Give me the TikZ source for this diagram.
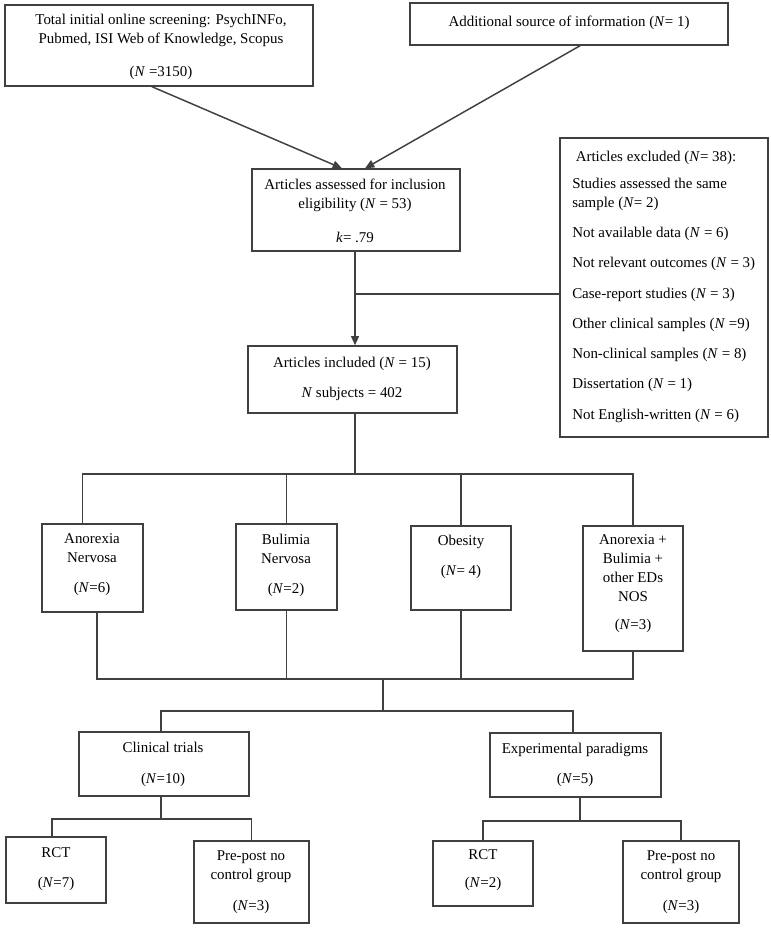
\documentclass[tikz,border=0pt]{standalone}
\usepackage{fontspec}
\setmainfont{Liberation Serif}
\usetikzlibrary{fit,calc,arrows.meta}
\newcommand\myfont{\fontsize{11.2pt}{14.25pt}\selectfont}
\tikzset{
  box/.style={draw=black!75, line width=1pt, inner sep=0pt, rectangle},
  txt/.style={anchor=north, inner sep=0pt, align=center, font=\myfont, execute at begin node=\strut},
  txtl/.style={anchor=north west, inner sep=0pt, align=left, font=\myfont, execute at begin node=\strut},
  conn/.style={draw=black!75, line width=1.1pt},
  arr/.style={conn, -{Triangle[length=7pt,width=6pt]}}
}
\begin{document}
\begin{tikzpicture}[x=0.75pt,y=-0.75pt]
\useasboundingbox (0,0) rectangle (770,930);
% boxes
\node[box, fit={(5,5) (313,86)}] (b1) {};
\node[box, fit={(410,3) (728,45)}] (b2) {};
\node[box, fit={(252,169) (460,251)}] (ass) {};
\node[box, fit={(248,346) (457,413)}] (inc) {};
\node[box, fit={(560,138) (768,437)}] (exc) {};
\node[box, fit={(42,524) (143,612)}] (an) {};
\node[box, fit={(236,524) (337,610)}] (bu) {};
\node[box, fit={(411,526) (511,610)}] (ob) {};
\node[box, fit={(583,526) (683,651)}] (ab) {};
\node[box, fit={(79,732) (249,796)}] (ct) {};
\node[box, fit={(490,733) (661,797)}] (ep) {};
\node[box, fit={(6,837) (106,903)}] (rcta) {};
\node[box, fit={(194,841) (309,923)}] (ppa) {};
\node[box, fit={(433,841) (533,906)}] (rctb) {};
\node[box, fit={(623,841) (739,923)}] (ppb) {};
% texts
\node[txt] (t1) at (161,13.7) {Total initial online screening: PsychINFo,\\Pubmed, ISI Web of Knowledge, Scopus\\[10.5pt](\textit{N} =3150)};
\node[txt] (t2) at (569,12.7) {Additional source of information (\textit{N}= 1)};
\node[txt] (t3) at (355,178.7) {Articles assessed for inclusion\\eligibility (\textit{N} = 53)\\[11.25pt]\textit{k}= .79};
\node[txt] (t4) at (352,356.7) {Articles included (\textit{N} = 15)\\[8.25pt]\textit{N} subjects = 402};
\node[txt] (t5) at (656,147.7) {Articles excluded (\textit{N}= 38):};
\node[txtl] (t6) at (572,177.7) {Studies assessed the same\\sample (\textit{N}= 2)\\[8.45pt]Not available data (\textit{N} = 6)\\[8.45pt]Not relevant outcomes (\textit{N} = 3)\\[8.45pt]Case-report studies (\textit{N} = 3)\\[8.45pt]Other clinical samples (\textit{N} =9)\\[8.45pt]Non-clinical samples (\textit{N} = 8)\\[8.45pt]Dissertation (\textit{N} = 1)\\[8.45pt]Not English-written (\textit{N} = 6)};
\node[txt] (t7) at (92,533.7) {Anorexia\\Nervosa\\[8.25pt](\textit{N}=6)};
\node[txt] (t8) at (286,533.7) {Bulimia\\Nervosa\\[8.25pt](\textit{N}=2)};
\node[txt] (t9) at (461,534.7) {Obesity\\[8.25pt](\textit{N}= 4)};
\node[txt] (t10) at (633,534.7) {Anorexia +\\Bulimia +\\other EDs\\NOS\\[6.75pt](\textit{N}=3)};
\node[txt] (t11) at (163,741.7) {Clinical trials\\[9pt](\textit{N}=10)};
\node[txt] (t12) at (575,742.7) {Experimental paradigms\\[8.25pt](\textit{N}=5)};
\node[txt] (t13) at (56,847) {RCT\\[8.25pt](\textit{N}=7)};
\node[txt] (t14) at (251,850.7) {Pre-post no\\control group\\[9pt](\textit{N}=3)};
\node[txt] (t15) at (483,849.7) {RCT\\[6.75pt](\textit{N}=2)};
\node[txt] (t16) at (681,850.7) {Pre-post no\\control group\\[9pt](\textit{N}=3)};
% junctions
\coordinate (j1) at (355,294);
\coordinate (j2) at (355,474);
\coordinate (j3) at (383,679);
\coordinate (j4) at (383,711);
\coordinate (j5) at (161,819);
\coordinate (j6) at (580,821);
% connectors
\draw[arr] ($(b1.south west)!0.477!(b1.south east)$) -- ($(ass.north west)!0.433!(ass.north east)$);
\draw[arr] ($(b2.south west)!0.535!(b2.south east)$) -- ($(ass.north west)!0.543!(ass.north east)$);
\draw[arr] (ass.south -| j1) -- (inc.north -| j1);
\draw[conn] (j1) -- (j1 -| exc.west);
\draw[conn] (inc.south -| j2) -- (j2);
\draw[conn] ($(an.north west)!0.4!(an.north east)$) |- (ab.north |- j2) -- (ab.north);
\draw[conn] (bu.north) -- (bu.north |- j2);
\draw[conn] (ob.north) -- (ob.north |- j2);
\draw[conn] ($(an.south west)!0.545!(an.south east)$) |- (ab.south |- j3) -- (ab.south);
\draw[conn] (bu.south) -- (bu.south |- j3);
\draw[conn] (ob.south) -- (ob.south |- j3);
\draw[conn] (j3) -- (j4);
\draw[conn] ($(ct.north west)!0.482!(ct.north east)$) |- (j4) -| ($(ep.north west)!0.485!(ep.north east)$);
\draw[conn] (ct.south -| j5) -- (j5);
\draw[conn] ($(rcta.north west)!0.46!(rcta.north east)$) |- (j5) -| (ppa.north);
\draw[conn] (ep.south -| j6) -- (j6);
\draw[conn] (rctb.north) |- (j6) -| (ppb.north);
\end{tikzpicture}
\end{document}
